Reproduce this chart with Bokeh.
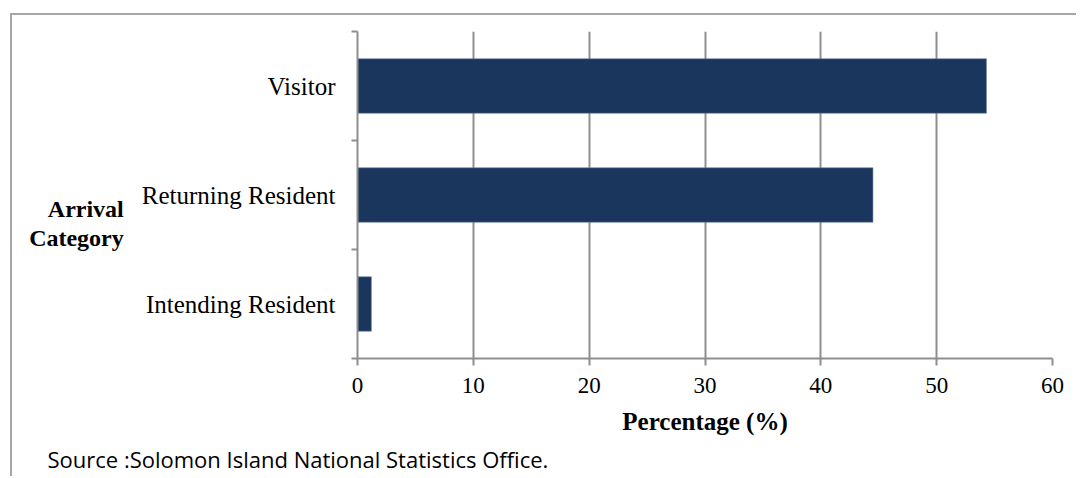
from bokeh.plotting import figure
from bokeh.models import FixedTicker, Range1d, Title
from bokeh.embed import file_html
from bokeh.resources import INLINE

categories = ["Intending Resident", "Returning Resident", "Visitor"]
percentages = [1.2, 44.5, 54.3]
x_ticks = [0, 10, 20, 30, 40, 50, 60]
x_title = "Percentage (%)"
y_title = "\n\nArrival\nCategory"
source_note = "Source :Solomon Island National Statistics Office."

positions = [i + 1 for i in range(len(categories))]
boundaries = [i + 0.5 for i in range(len(categories) + 1)]

W, H = 1066, 463
GRAY = "#8e8e8e"
SERIF = "Liberation Serif"

p = figure(width=W, height=H, x_range=Range1d(0, 60), y_range=Range1d(0.5, 3.5),
           output_backend="svg", toolbar_location=None,
           min_border_left=345, min_border_right=26, min_border_top=16, min_border_bottom=119)
p.styles = {"margin-left": "10px", "margin-top": "13px",
            "border-left": "2px solid #a6a6a6", "border-top": "2px solid #a6a6a6"}
p.outline_line_color = None
p.background_fill_color = "white"
p.border_fill_color = "white"

p.hbar(y=positions, right=percentages, left=0, height=0.5,
       fill_color="#1a365d", line_color="#6f86a6", line_width=0.6)

xa = p.xaxis[0]
xa.ticker = FixedTicker(ticks=x_ticks)
xa.axis_line_color = GRAY
xa.axis_line_width = 2
xa.major_tick_line_color = GRAY
xa.major_tick_line_width = 2
xa.major_tick_out = 7
xa.major_tick_in = 0
xa.minor_tick_line_color = None
xa.major_label_text_font = SERIF
xa.major_label_text_font_size = "23px"
xa.major_label_text_color = "black"
xa.major_label_standoff = 12
xa.axis_label = x_title
xa.axis_label_text_font = SERIF
xa.axis_label_text_font_style = "bold"
xa.axis_label_text_font_size = "25px"
xa.axis_label_text_color = "black"
xa.axis_label_standoff = 12

ya = p.yaxis[0]
ya.ticker = FixedTicker(ticks=positions, minor_ticks=boundaries)
ya.major_label_overrides = {pos: name for pos, name in zip(positions, categories)}
ya.axis_line_color = GRAY
ya.axis_line_width = 2
ya.major_tick_line_color = None
ya.major_tick_out = 0
ya.major_tick_in = 0
ya.minor_tick_line_color = GRAY
ya.minor_tick_line_width = 2
ya.minor_tick_out = 6
ya.minor_tick_in = 0
ya.major_label_text_font = SERIF
ya.major_label_text_font_size = "25px"
ya.major_label_text_color = "black"
ya.major_label_standoff = 16
ya.axis_label = y_title
ya.axis_label_orientation = "horizontal"
ya.axis_label_text_align = "center"
ya.axis_label_text_font = SERIF
ya.axis_label_text_font_style = "bold"
ya.axis_label_text_font_size = "24px"
ya.axis_label_text_line_height = 1.1
ya.axis_label_text_color = "black"
ya.axis_label_standoff = 15

p.xgrid.grid_line_color = GRAY
p.xgrid.grid_line_width = 2
p.ygrid.grid_line_color = None

p.add_layout(Title(text=source_note, align="left", offset=-310, standoff=9,
                   text_font="Open Sans", text_font_style="normal",
                   text_font_size="22px", text_color="black"), "below")

open("out.html", "w").write(file_html(p, INLINE))
